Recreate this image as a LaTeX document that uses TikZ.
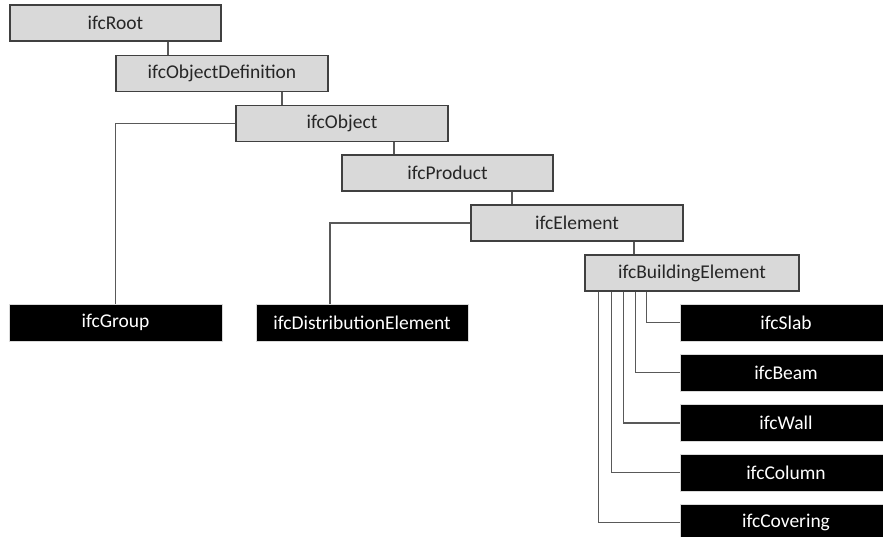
\documentclass[tikz,border=0pt]{standalone}
\usepackage{fontspec}
\setmainfont{Carlito}
\usetikzlibrary{calc}
\definecolor{boxgray}{HTML}{D9D9D9}
\definecolor{edgegray}{HTML}{404040}
\definecolor{linegray}{HTML}{595959}
\definecolor{txtgray}{HTML}{262626}
\tikzset{
  abox/.style={draw=edgegray, line width=1.3pt, fill=boxgray, text=txtgray,
    minimum width=212pt, minimum height=36pt, inner sep=0pt,
    font=\fontsize{19.5}{23}\selectfont},
  cbox/.style={draw=boxgray, line width=1pt, fill=black, text=white,
    minimum width=212pt, minimum height=37pt, inner sep=0pt,
    font=\fontsize{19.5}{23}\selectfont},
  conn/.style={draw=linegray, line width=1.3pt}
}
\begin{document}
\begin{tikzpicture}[x=1pt,y=-1pt]
\useasboundingbox (0,0) rectangle (883,537);
\fill[white] (0,0) rectangle (883,537);
\node[abox, minimum width=211pt] (root) at (115.5,23) {ifcRoot};
\node[abox] (objdef) at (222,73.5) {ifcObjectDefinition};
\node[abox] (object) at (342,123.5) {ifcObject};
\node[abox, minimum width=211pt] (product) at (447.5,173) {ifcProduct};
\node[abox] (element) at (577,223) {ifcElement};
\node[abox, minimum width=214pt] (building) at (692,273) {ifcBuildingElement};
\node[cbox, minimum width=213pt] (group) at (115.5,322.5) {ifcGroup};
\node[cbox] (distel) at (362,322.5) {ifcDistributionElement};
\node[cbox] (slab) at (786,322.5) {ifcSlab};
\node[cbox] (beam) at (786,372.5) {ifcBeam};
\node[cbox] (wall) at (786,423) {ifcWall};
\node[cbox] (column) at (786,472.5) {ifcColumn};
\node[cbox] (covering) at (786,522.5) {ifcCovering};
% tree connectors
\draw[conn] ([xshift=52.5pt]root.south) -- ([xshift=52.5pt]root.south |- objdef.north);
\draw[conn] ([xshift=60pt]objdef.south) -- ([xshift=60pt]objdef.south |- object.north);
\draw[conn] ([xshift=52pt]object.south) -- ([xshift=52pt]object.south |- product.north);
\draw[conn] ([xshift=64.5pt]product.south) -- ([xshift=64.5pt]product.south |- element.north);
\draw[conn] ([xshift=57pt]element.south) -- ([xshift=57pt]element.south |- building.north);
\draw[conn] (object.west) -| (group.north);
\draw[conn] (element.west) -| ([xshift=-32pt]distel.north);
\draw[conn] ([xshift=62pt]building.south west) |- (slab.west);
\draw[conn] ([xshift=51pt]building.south west) |- (beam.west);
\draw[conn] ([xshift=39pt]building.south west) |- (wall.west);
\draw[conn] ([xshift=27pt]building.south west) |- (column.west);
\draw[conn] ([xshift=14pt]building.south west) |- (covering.west);
\end{tikzpicture}
\end{document}
